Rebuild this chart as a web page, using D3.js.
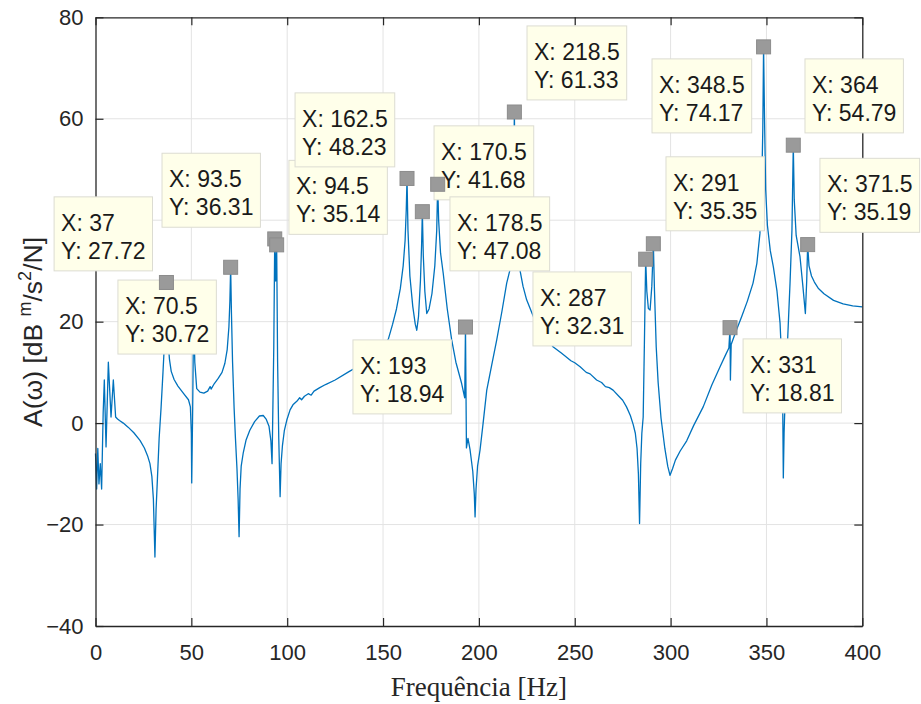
<!DOCTYPE html>
<html>
<head>
<meta charset="utf-8">
<script src="https://cdn.jsdelivr.net/npm/d3@7"></script>
<style>
  body { margin: 0; background: #fff; }
  svg { display: block; }
</style>
</head>
<body>
<div class="chart"></div>
<script>
// FRF curve: frequency [Hz] and amplitude [dB]
const freqHz = [
  0, 0.6, 1.2, 1.8, 2.5, 3.2, 4.0, 4.6, 5.5, 6.7,
  8.1, 9.3, 10.5, 11.5, 12.5, 14.5, 17, 20, 23.2, 25.5,
  27.3, 28.4, 29.4, 30.2, 31, 31.6, 32.3, 33.2, 34.2, 35.2,
  36, 36.6, 37, 37.5, 38, 38.6, 39.5, 41, 43, 46,
  48.5, 49.5, 50, 50.2, 50.7, 51.2, 51.8, 52.8, 54.5, 56.5,
  58.5, 59.8, 60.3, 62, 64, 66, 67.5, 68.7, 69.6, 70.1,
  70.5, 70.9, 71.5, 72.3, 73, 73.8, 74.4, 74.9, 75.4, 76,
  77.1, 78.5, 80.5, 83, 85.5, 87.5, 89, 90.5, 91.5, 92.1,
  93, 93.5, 94, 94.5, 95, 95.6, 96.3, 96.8, 97.5, 98.5,
  99.8, 101.5, 103, 105, 106.5, 107.5, 109, 111, 112.5, 114,
  117, 120, 125, 132, 138, 145, 149, 152.8, 155, 157,
  159, 160.5, 161.5, 162.1, 162.5, 163, 164, 165.5, 166.8, 167.6,
  168.5, 169.5, 170.1, 170.5, 171, 171.8, 172.8, 174, 175.5, 177,
  178, 178.5, 179, 180, 181.4, 183.5, 185.8, 188, 191, 192.6,
  193, 193.5, 194.3, 195.4, 196.8, 197.6, 198, 198.5, 199.3, 200.6,
  202.2, 204.1, 206.6, 209.3, 212, 214.5, 217.1, 218, 218.5, 219,
  219.8, 221.4, 223, 224.9, 228.4, 233, 238.8, 243, 248, 250,
  252.8, 256, 258, 261.4, 264, 266, 268, 270, 273, 275,
  277, 279, 280.5, 281.6, 282.5, 283.2, 283.8, 284.4, 285, 285.7,
  286.3, 287, 287.6, 288.4, 289.3, 290.2, 291, 291.6, 292.5, 293.5,
  295, 297, 298.5, 299.7, 301, 302.5, 305, 308.4, 312, 317,
  321.5, 325.8, 328.5, 330.4, 331, 331.2, 331.6, 334, 337.1, 340,
  343, 345, 346.6, 347.5, 348.1, 348.5, 349, 349.6, 350.5, 352,
  353.6, 355.5, 357.1, 358, 358.5, 358.8, 359.2, 360, 361, 362.3,
  363.3, 364, 364.5, 365.5, 367.5, 369, 370.3, 371, 371.5, 372.2,
  373.5, 375, 377, 380, 385, 390, 395, 400
];
const ampDb = [
  -6, -13, -5, -12, -8, -13, 2, 8.5, -4.7, 12,
  1.2, 8.5, 1.2, 0.8, 0.5, 0, -0.8, -1.9, -3.4, -4.9,
  -6.6, -8, -10.5, -15, -26.4, -17, -11, -3, 3, 10,
  16, 22, 27.72, 20, 15.5, 12.5, 10.2, 8.6, 7.3, 5.8,
  4.6, 3.2, -2, -11.8, 3, 22, 12, 6.8, 6.1, 5.9,
  6.3, 7.2, 6.7, 7.8, 8.8, 10, 11.8, 14.5, 19, 24,
  30.72, 22, 12, 3, -3, -9, -15, -22.4, -13, -8.5,
  -5.8, -3.4, -1.4, 0.3, 1.4, 1.5, 0.8, -0.6, -3.5, -8,
  15, 36.31, 28, 35.14, 12, -3, -14.5, -8, -4.5, -1.5,
  0.6, 2.6, 3.6, 4.3, 5.0, 4.6, 5.3, 5.8, 5.5, 6.3,
  7.0, 7.6, 8.5, 10.1, 11.4, 13, 14.5, 16.6, 19.5, 22.5,
  26.5, 31, 36, 42, 48.23, 38, 29, 23, 19.5, 18.3,
  21, 28, 35, 41.68, 33, 26, 21.6, 22.5, 25.5, 31,
  38, 47.08, 40, 33.5, 29.5, 22.5, 16.4, 12, 7.8, 5,
  18.94, -4.9, -3, -5.3, -9.5, -14, -18.5, -13, -8.5, -5.3,
  0, 6.5, 11.3, 16.4, 22, 27.6, 31.6, 42, 61.33, 44,
  35, 30.2, 27, 24.3, 21, 17.8, 15, 13.8, 12.3, 11.9,
  11.1, 10, 9.7, 8.5, 8.0, 7.2, 7.0, 6.5, 5.3, 4.5,
  3.2, 1.5, -0.3, -2, -5, -10, -19.8, -8, -2, 1.2,
  15, 32.31, 26, 22.6, 22.3, 27, 35.35, 26, 15, 8,
  1, -5, -8.5, -10.3, -9, -7.3, -5.5, -3.5, -0.5, 3.2,
  7.5, 11.1, 13.3, 14.8, 18.81, 8.5, 15.5, 18, 21, 24,
  27.6, 31.5, 37.4, 46, 58, 74.17, 60, 46, 39, 34,
  30.8, 26, 19.7, 12, 3, -10.8, -2, 8, 16, 27.6,
  38, 54.79, 44, 37, 32.8, 27, 21.6, 28, 35.19, 31,
  29, 27.8, 26.6, 25.5, 24.2, 23.5, 23.1, 22.9
];

// data tips shown on the figure
const tipFreq = [37, 70.5, 93.5, 94.5, 162.5, 170.5, 178.5, 193, 218.5, 287, 291, 331, 348.5, 364, 371.5];
const tipAmp = [27.72, 30.72, 36.31, 35.14, 48.23, 41.68, 47.08, 18.94, 61.33, 32.31, 35.35, 18.81, 74.17, 54.79, 35.19];
// top-left corner of each tip box, in axis units
const boxFreq = [-21.6, 11.7, 34.7, 100.9, 104.1, 176.6, 184.9, 134.3, 225.1, 228.2, 297.6, 337.8, 290.3, 370.1, 377.9];
const boxAmp = [44.6, 28.2, 53.2, 51.8, 65.1, 58.6, 44.6, 16.4, 78.3, 29.8, 52.5, 16.6, 71.8, 71.8, 52.2];

const xTicks = [0, 50, 100, 150, 200, 250, 300, 350, 400];
const yTicks = [-40, -20, 0, 20, 40, 60, 80];

const width = 921;
const height = 704;
const margins = {top: 17.3, right: 58.7, bottom: 78, left: 95.5};

const svg = d3.select(".chart").append("svg")
  .attr("width", width)
  .attr("height", height);

const xScale = d3.scaleLinear()
  .domain([0, 400])
  .range([margins.left, width - margins.right]);

const yScale = d3.scaleLinear()
  .domain([-40, 80])
  .range([height - margins.bottom, margins.top]);

const x0 = xScale(0), x1 = xScale(400), y0 = yScale(-40), y1 = yScale(80);
const axisColor = "#262626";
const tickFont = "'Liberation Sans', Arial, sans-serif";

// grid
svg.append("g")
  .selectAll("line")
  .data(xTicks.slice(1, -1))
  .join("line")
    .attr("x1", d => xScale(d)).attr("x2", d => xScale(d))
    .attr("y1", y1).attr("y2", y0)
    .attr("stroke", "#e3e3e3").attr("stroke-width", 1);
svg.append("g")
  .selectAll("line")
  .data(yTicks.slice(1, -1))
  .join("line")
    .attr("x1", x0).attr("x2", x1)
    .attr("y1", d => yScale(d)).attr("y2", d => yScale(d))
    .attr("stroke", "#e3e3e3").attr("stroke-width", 1);

// curve
const line = d3.line()
  .x((d, i) => xScale(freqHz[i]))
  .y(d => yScale(d));

svg.append("path")
  .attr("fill", "none")
  .attr("stroke", "#0072BD")
  .attr("stroke-width", 1.3)
  .attr("stroke-linejoin", "round")
  .attr("d", line(ampDb));

// axes (box on, ticks pointing inward on all sides)
const xAxis = d3.axisBottom(xScale).tickValues(xTicks).tickSizeInner(-8).tickSizeOuter(0).tickPadding(18);
const yAxis = d3.axisLeft(yScale).tickValues(yTicks).tickSizeInner(-8).tickSizeOuter(0).tickPadding(12);
const xTop = d3.axisTop(xScale).tickValues(xTicks).tickSizeInner(-8).tickSizeOuter(0).tickFormat("");
const yRight = d3.axisRight(yScale).tickValues(yTicks).tickSizeInner(-8).tickSizeOuter(0).tickFormat("");

function styleAxis(g) {
  g.select(".domain").attr("stroke", axisColor).attr("stroke-width", 1.3);
  g.selectAll(".tick line").attr("stroke", axisColor).attr("stroke-width", 1.2);
  g.selectAll(".tick text")
    .attr("fill", axisColor)
    .style("font-family", tickFont)
    .style("font-size", "22px");
}

svg.append("g").attr("transform", `translate(0, ${y0})`).call(xAxis).call(styleAxis);
svg.append("g").attr("transform", `translate(${x0}, 0)`).call(yAxis).call(styleAxis);
svg.append("g").attr("transform", `translate(0, ${y1})`).call(xTop).call(styleAxis);
svg.append("g").attr("transform", `translate(${x1}, 0)`).call(yRight).call(styleAxis);

// axis labels
svg.append("text")
  .attr("x", (x0 + x1) / 2)
  .attr("y", 696)
  .attr("text-anchor", "middle")
  .attr("fill", axisColor)
  .style("font-family", "'Liberation Serif', 'Times New Roman', serif")
  .style("font-size", "27px")
  .text("Frequência [Hz]");

const ylab = svg.append("text")
  .attr("transform", `translate(42, 332) rotate(-90)`)
  .attr("text-anchor", "middle")
  .attr("fill", axisColor)
  .style("font-family", tickFont)
  .style("font-size", "26.5px");
ylab.append("tspan").text("A(ω) [dB ");
ylab.append("tspan").attr("dy", -11).style("font-size", "18px").text("m");
ylab.append("tspan").attr("dy", 11).text("/s");
ylab.append("tspan").attr("dy", -11).style("font-size", "18px").text("2");
ylab.append("tspan").attr("dy", 11).text("/N]");

// data tip boxes
const tips = tipFreq.map((f, i) => ({f: f, a: tipAmp[i], bf: boxFreq[i], ba: boxAmp[i]}));

const tipG = svg.append("g");
tips.forEach(t => {
  const g = tipG.append("g");
  const rect = g.append("rect")
    .attr("x", xScale(t.bf))
    .attr("y", yScale(t.ba))
    .attr("height", 74)
    .attr("fill", "#ffffea")
    .attr("stroke", "#dcdcd2")
    .attr("stroke-width", 1);
  const l1 = g.append("text")
    .attr("x", xScale(t.bf) + 7)
    .attr("y", yScale(t.ba) + 34)
    .style("font-family", tickFont)
    .style("font-size", "23px")
    .attr("fill", "#1a1a1a")
    .text("X: " + t.f);
  const l2 = g.append("text")
    .attr("x", xScale(t.bf) + 7)
    .attr("y", yScale(t.ba) + 62)
    .style("font-family", tickFont)
    .style("font-size", "23px")
    .attr("fill", "#1a1a1a")
    .text("Y: " + t.a);
  const w = Math.max(l1.node().getComputedTextLength(), l2.node().getComputedTextLength()) + 14;
  rect.attr("width", w);
});

// markers
svg.append("g")
  .selectAll("rect")
  .data(tips)
  .join("rect")
    .attr("x", d => xScale(d.f) - 7)
    .attr("y", d => yScale(d.a) - 7)
    .attr("width", 14)
    .attr("height", 14)
    .attr("fill", "#9a9a9a")
    .attr("stroke", "#8c8c8c")
    .attr("stroke-width", 1);
</script>
</body>
</html>
